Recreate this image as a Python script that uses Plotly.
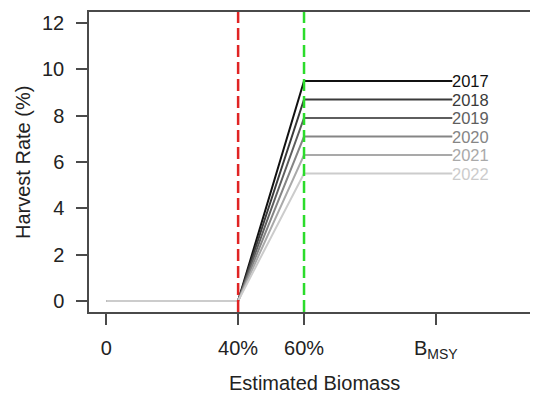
import plotly.graph_objects as go

# Data
years = ["2017", "2018", "2019", "2020", "2021", "2022"]
max_harvest = [9.5, 8.7, 7.9, 7.1, 6.3, 5.5]
line_colors = ["#111111", "#3a3a3a", "#5e5e5e", "#858585", "#a9a9a9", "#cccccc"]
biomass_x = [0, 40, 60, 105]          # control rule breakpoints (% scale, BMSY = 100)
lower_ref = 40
upper_ref = 60
x_tick_vals = [0, 40, 60, 100]
x_tick_text = ["0", "40%", "60%", "B<sub>MSY</sub>"]
y_tick_vals = [0, 2, 4, 6, 8, 10, 12]

FONT = "Liberation Sans, Arial, sans-serif"
AXIS_COLOR = "#4a4a4a"

fig = go.Figure()
for yr, hmax, col in zip(years, max_harvest, line_colors):
    fig.add_trace(go.Scatter(
        x=biomass_x, y=[0, 0, hmax, hmax], mode="lines",
        line=dict(color=col, width=2), showlegend=False, hoverinfo="skip"))
    fig.add_annotation(x=biomass_x[-1], y=hmax, text=yr, showarrow=False,
                       xanchor="left", yanchor="middle", xshift=-1,
                       borderpad=0,
                       font=dict(family=FONT, size=16.5, color=col))

fig.add_shape(type="line", x0=lower_ref, x1=lower_ref, y0=0, y1=1, yref="paper",
              line=dict(color="#e02424", width=2.5, dash="12px,5px"))
fig.add_shape(type="line", x0=upper_ref, x1=upper_ref, y0=0, y1=1, yref="paper",
              line=dict(color="#2bdc2b", width=2.5, dash="12px,5px"))

# axis titles as annotations
fig.add_annotation(text="Estimated Biomass", xref="paper", yref="paper",
                   x=0.503, y=-0.237, showarrow=False, xanchor="center",
                   yanchor="middle", font=dict(family=FONT, size=20, color="#222222"))
fig.add_annotation(text="Harvest Rate (%)", xref="paper", yref="paper",
                   x=-0.147, y=0.5, showarrow=False, xanchor="center",
                   yanchor="middle", textangle=-90,
                   font=dict(family=FONT, size=20, color="#222222"))

# page body has an 8px default margin, so the figure is sized to fit the window
fig.update_layout(
    width=530, height=392,
    margin=dict(l=81, r=0, t=4, b=88),
    paper_bgcolor="white", plot_bgcolor="white",
    font=dict(family=FONT, size=20, color="#222222"),
    xaxis=dict(range=[-5.25, 131.0], tickvals=x_tick_vals, ticktext=x_tick_text,
               showgrid=False, zeroline=False, showline=True, linecolor=AXIS_COLOR,
               linewidth=1.5, mirror=True, ticks="outside", ticklen=11,
               tickcolor=AXIS_COLOR, tickwidth=1.5, automargin=False,
               ticklabelstandoff=6),
    yaxis=dict(range=[-0.48, 12.48], tickvals=y_tick_vals,
               showgrid=False, zeroline=False, showline=True, linecolor=AXIS_COLOR,
               linewidth=1.5, mirror=False, ticks="outside", ticklen=11,
               tickcolor=AXIS_COLOR, tickwidth=1.5, ticklabelstandoff=8,
               automargin=False),
)

fig.write_html("out.html")
